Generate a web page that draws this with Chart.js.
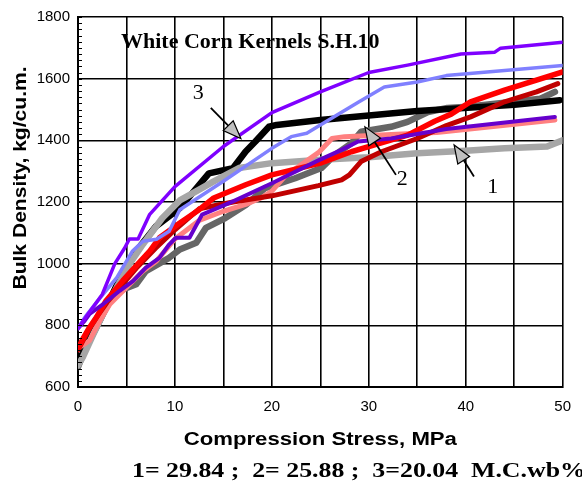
<!DOCTYPE html>
<html>
<head>
<meta charset="utf-8">
<script src="https://cdn.jsdelivr.net/npm/chart.js@4/dist/chart.umd.min.js"></script>
<style>
  html, body { margin: 0; padding: 0; background: #fff; }
  #wrap { width: 582px; height: 486px; position: relative; }
</style>
</head>
<body>
<div id="wrap"><canvas id="densityChart"></canvas></div>
<script>
// compression stress (MPa) vs bulk density (kg/cu.m.), [stress, density]
const violetRun = [[0,790],[1,835],[2.5,900],[3.8,1000],[4.8,1050],[5.3,1080],[6.2,1080],[7.4,1160],[10,1250],[15,1380],[20,1490],[25,1557],[30,1620],[34,1644],[39.5,1680],[43,1686],[43.6,1699],[50,1718]]
const blueRun = [[0,790],[0.7,826],[2.3,890],[4,955],[5.6,1040],[6.7,1073],[8.1,1079],[9.4,1105],[10.5,1175],[15,1267],[20,1374],[22,1412],[23.6,1423],[25,1450],[29,1525],[31.6,1573],[35,1589],[38,1610],[50,1643]]
const purpleRun = [[0,790],[0.7,815],[1.2,837],[2.6,869],[4.3,912],[5.7,944],[7,987],[8.4,1019],[9.4,1062],[10.1,1084],[11.5,1084],[12.8,1159],[16,1202],[20,1261],[24.8,1335],[27.2,1369],[28.9,1396],[32.3,1406],[38,1437],[49.2,1476]]
const redRun = [[0,725],[0.5,756],[1.2,794],[1.9,826],[2.9,880],[4.6,944],[6,993],[7.4,1041],[8.4,1084],[10.5,1132],[12.5,1175],[14,1213],[17.3,1256],[20,1288],[25,1326],[28.2,1363],[30.6,1385],[34,1417],[36.8,1462],[38.5,1485],[40.5,1525],[44,1563],[50,1622]]
const salmonRun = [[0,725],[1.2,751],[2.25,815],[3.3,869],[5,923],[6.7,976],[8.1,1009],[10,1080],[12.5,1140],[15,1170],[17.3,1192],[19,1215],[20,1235],[21.4,1285],[24.8,1360],[26.2,1406],[27.5,1412],[35,1423],[37,1425],[49.2,1466]]
const darkRedRun = [[0,720],[1,780],[2,830],[3,875],[4.5,930],[6,985],[8,1050],[10,1110],[12.5,1178],[16,1200],[20,1220],[24.8,1253],[27.2,1272],[28,1288],[29.2,1331],[31.3,1363],[35,1406],[38,1448],[40.5,1476],[44,1525],[47.3,1557],[49.5,1584]]
const lightGrayRun = [[0,670],[0.5,697],[1.6,772],[2.6,837],[4,923],[5.3,998],[6.7,1063],[8.7,1148],[10.5,1205],[12.5,1240],[14,1267],[16.6,1310],[20,1326],[25,1337],[30,1345],[35,1358],[40,1366],[44,1374],[48.4,1380],[50,1400]]
const blackRun = [[0,680],[2,800],[4,930],[6,1040],[8,1120],[10.5,1180],[13.5,1293],[16,1310],[17.3,1364],[18.3,1396],[19.7,1444],[20.5,1450],[25,1466],[35,1495],[45,1515],[49.7,1530]]
const darkGrayRun = [[0,665],[1.6,794],[2.6,858],[4.3,912],[6,933],[7,976],[9.4,1019],[10.5,1046],[12.2,1068],[13.2,1116],[15.2,1148],[17.3,1190],[19.3,1245],[22.4,1277],[25.1,1310],[26.5,1353],[28.2,1390],[29.2,1428],[32.3,1444],[34,1460],[36.1,1492],[38.1,1505],[40.2,1509],[47.7,1535],[49.2,1557]]

// callouts: label position, arrow tail, arrow tip (stress, density)
const calloutText = ['3', '2', '1']
const calloutLabel = [[12.4,1554],[33.45,1273],[42.8,1247]]
const calloutTail = [[13.7,1505],[32.8,1288],[40.85,1283]]
const calloutTip = [[16.8,1406],[29.6,1444],[38.8,1385]]

// moisture content legend under the axis title
const moistureNote = '1= 29.84 ;  2= 25.88 ;  3=20.04  M.C.wb%'

const toPoints = run => run.map(([x, y]) => ({ x, y }))

// first dataset is painted last (on top)
const series = [
  { data: violetRun, color: '#7f00ff', width: 3.5 },
  { data: blueRun, color: '#8080ff', width: 3.5 },
  { data: purpleRun, color: '#6600cc', width: 4 },
  { data: redRun, color: '#ff0000', width: 5.5 },
  { data: darkRedRun, color: '#c00000', width: 5 },
  { data: salmonRun, color: '#ff8080', width: 5 },
  { data: lightGrayRun, color: '#a6a6a6', width: 6.5 },
  { data: blackRun, color: '#000000', width: 6.5 },
  { data: darkGrayRun, color: '#666666', width: 6.5 }
]

const SERIF = '"Liberation Serif", "Times New Roman", serif'
const SANS = '"Liberation Sans", Arial, sans-serif'

// text drawn wider than its font, like the pasted figure labels
function wideText(ctx, text, x, y, sx) {
  ctx.save()
  ctx.translate(x, y)
  ctx.scale(sx, 1)
  ctx.fillText(text, 0, 0)
  ctx.restore()
}

const extrasPlugin = {
  id: 'extras',
  afterDraw(chart) {
    const { ctx, chartArea, scales } = chart
    const xs = scales.x, ys = scales.y
    ctx.save()

    // minor ticks along the density axis
    ctx.strokeStyle = '#000'
    ctx.lineWidth = 1
    for (let v = 600; v <= 1800; v += 20) {
      const py = Math.round(ys.getPixelForValue(v)) + 0.5
      ctx.beginPath()
      ctx.moveTo(chartArea.left, py)
      ctx.lineTo(chartArea.left + 4, py)
      ctx.stroke()
    }

    // plot caption
    ctx.fillStyle = '#000'
    ctx.font = 'bold 22px ' + SERIF
    ctx.textAlign = 'left'
    ctx.textBaseline = 'alphabetic'
    ctx.fillText('White Corn Kernels S.H.10', chartArea.left + 43, chartArea.top + 31)

    // numbered arrows
    calloutText.forEach((txt, i) => {
      const tx = xs.getPixelForValue(calloutTail[i][0]), ty = ys.getPixelForValue(calloutTail[i][1])
      const hx = xs.getPixelForValue(calloutTip[i][0]), hy = ys.getPixelForValue(calloutTip[i][1])
      const ang = Math.atan2(hy - ty, hx - tx)
      const len = 18, half = 7
      const bx = hx - len * Math.cos(ang), by = hy - len * Math.sin(ang)
      ctx.strokeStyle = '#000'
      ctx.lineWidth = 1.8
      ctx.beginPath()
      ctx.moveTo(tx, ty)
      ctx.lineTo(bx, by)
      ctx.stroke()
      ctx.beginPath()
      ctx.moveTo(hx, hy)
      ctx.lineTo(bx + half * Math.sin(ang), by - half * Math.cos(ang))
      ctx.lineTo(bx - half * Math.sin(ang), by + half * Math.cos(ang))
      ctx.closePath()
      ctx.fillStyle = '#c0c0c0'
      ctx.fill()
      ctx.lineWidth = 1.2
      ctx.stroke()

      ctx.fillStyle = '#000'
      ctx.font = '22px ' + SERIF
      ctx.textAlign = 'center'
      ctx.textBaseline = 'middle'
      ctx.fillText(txt, xs.getPixelForValue(calloutLabel[i][0]), ys.getPixelForValue(calloutLabel[i][1]))
    })

    // axis titles and moisture note
    ctx.fillStyle = '#000'
    ctx.textBaseline = 'alphabetic'
    ctx.textAlign = 'center'
    ctx.font = 'bold 18px ' + SANS
    wideText(ctx, 'Compression Stress, MPa', (chartArea.left + chartArea.right) / 2, 445, 1.23)

    ctx.textAlign = 'left'
    ctx.font = 'bold 21px ' + SERIF
    wideText(ctx, moistureNote, 132, 477, 1.23)

    ctx.translate(26, 178)
    ctx.rotate(-Math.PI / 2)
    ctx.textAlign = 'center'
    ctx.font = 'bold 18px ' + SANS
    wideText(ctx, 'Bulk Density, kg/cu.m.', 0, 0, 1.17)
    ctx.restore()
  }
}

new Chart(document.getElementById('densityChart'), {
  type: 'line',
  data: {
    datasets: series.map(s => ({
      data: toPoints(s.data),
      borderColor: s.color,
      backgroundColor: s.color,
      borderWidth: s.width,
      pointRadius: 0,
      tension: 0,
      fill: false,
      borderCapStyle: 'round',
      borderJoinStyle: 'round'
    }))
  },
  options: {
    responsive: true,
    maintainAspectRatio: false,
    animation: false,
    layout: { padding: { top: 15, right: 16, left: 0, bottom: 0 } },
    plugins: {
      legend: { display: false },
      tooltip: { enabled: false }
    },
    scales: {
      x: {
        type: 'linear',
        min: 0,
        max: 50,
        afterFit: scale => { scale.height = 99 },
        grid: { color: '#000', lineWidth: 1.6, drawTicks: false },
        border: { color: '#000', width: 2 },
        ticks: {
          stepSize: 5,
          padding: 11,
          color: '#000',
          font: { family: SANS, size: 15 },
          maxRotation: 0,
          autoSkip: false,
          callback: v => (v % 10 === 0 ? String(v) : '')
        }
      },
      y: {
        type: 'linear',
        min: 600,
        max: 1800,
        afterFit: scale => { scale.width = 78 },
        grid: { color: '#000', lineWidth: 1.6, drawTicks: false },
        border: { color: '#000', width: 2 },
        ticks: {
          stepSize: 200,
          padding: 8,
          color: '#000',
          font: { family: SANS, size: 15 },
          callback: v => String(v)
        }
      }
    }
  },
  plugins: [extrasPlugin]
})
</script>
</body>
</html>
